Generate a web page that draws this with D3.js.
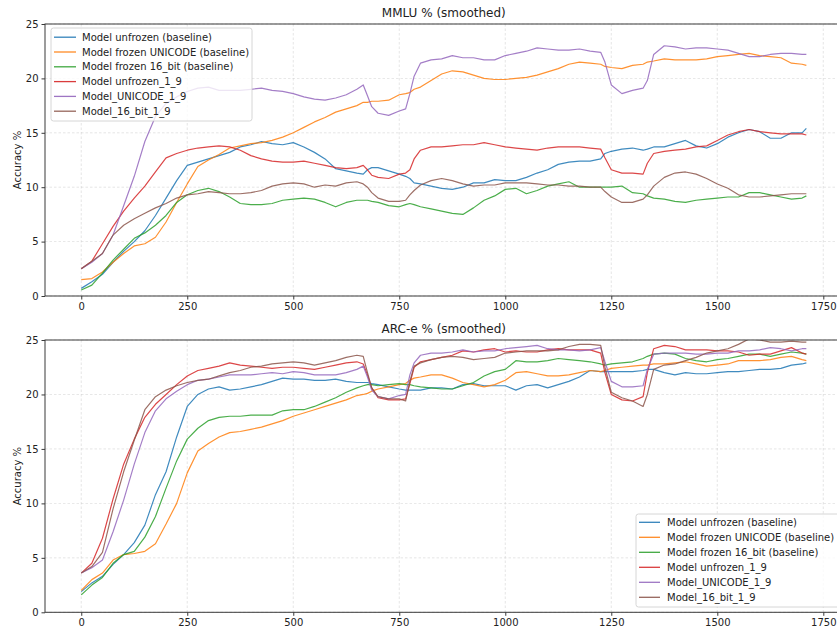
<!DOCTYPE html>
<html>
<head>
<meta charset="utf-8">
<script src="https://cdn.jsdelivr.net/npm/d3@7"></script>
<style>
  html, body { margin: 0; padding: 0; background: #fff; }
  svg { display: block; font-family: "DejaVu Sans", sans-serif; }
</style>
</head>
<body>
<script>
// ---- data ----
const STEPS = [
  0,25,50,75,100,125,150,175,200,225,
  250,275,300,325,350,375,400,425,450,475,
  500,525,550,575,600,625,650,665,675,685,
  700,725,750,765,775,785,800,825,850,875,
  900,925,950,975,1000,1025,1050,1075,1100,1125,
  1150,1175,1200,1225,1235,1250,1275,1300,1325,1335,
  1350,1375,1400,1425,1450,1475,1500,1525,1550,1575,
  1600,1625,1650,1675,1700,1710
];
const SERIES_LABELS = [
  "Model unfrozen (baseline)",
  "Model frozen UNICODE (baseline)",
  "Model frozen 16_bit (baseline)",
  "Model unfrozen_1_9",
  "Model_UNICODE_1_9",
  "Model_16_bit_1_9"
];
const X_TICKS = [0,250,500,750,1000,1250,1500,1750];
const Y_TICKS = [0,5,10,15,20,25];

// MMLU
const MMLU_UNFROZEN = [
  0.7,1.3,2.0,3.1,4.1,5.0,6.0,7.4,9.0,10.6,
  12.0,12.3,12.6,12.9,13.2,13.7,13.9,14.2,14.0,13.9,
  14.1,13.7,13.2,12.6,11.7,11.5,11.3,11.2,11.6,11.8,
  11.8,11.5,11.2,11.0,10.8,10.4,10.3,10.1,9.9,9.8,
  10.0,10.4,10.4,10.7,10.6,10.6,10.9,11.3,11.6,12.1,
  12.3,12.4,12.4,12.6,13.1,13.3,13.5,13.6,13.4,13.5,
  13.7,13.7,14.0,14.3,13.8,13.6,14.0,14.6,15.0,15.3,
  15.1,14.5,14.5,15.0,15.0,15.4
];
const MMLU_FROZEN_UNICODE = [
  1.5,1.6,2.2,3.1,3.9,4.6,4.8,5.4,6.8,8.6,
  10.3,11.9,12.5,13.0,13.6,13.8,14.0,14.1,14.3,14.6,
  15.0,15.5,16.0,16.4,16.9,17.2,17.5,17.8,17.8,17.9,
  17.9,18.0,18.5,18.6,18.7,19.0,19.2,19.8,20.4,20.7,
  20.6,20.3,20.0,19.9,19.9,20.0,20.1,20.3,20.6,20.9,
  21.3,21.5,21.4,21.3,21.1,21.0,20.9,21.2,21.3,21.5,
  21.6,21.8,21.7,21.7,21.7,21.8,22.0,22.1,22.2,22.3,
  22.1,22.0,21.9,21.4,21.3,21.2
];
const MMLU_FROZEN_16BIT = [
  0.55,1.0,2.1,3.3,4.3,5.3,5.8,6.5,7.4,8.6,
  9.3,9.7,9.9,9.6,9.1,8.5,8.4,8.4,8.5,8.8,
  8.9,9.0,8.9,8.6,8.2,8.6,8.8,8.8,8.8,8.7,
  8.6,8.3,8.2,8.4,8.5,8.4,8.2,8.0,7.8,7.6,
  7.5,8.1,8.8,9.2,9.8,9.9,9.4,9.7,10.1,10.3,
  10.5,10.0,10.0,10.0,10.0,10.0,10.1,9.5,9.4,9.2,
  9.0,8.9,8.7,8.6,8.8,8.9,9.0,9.1,9.1,9.5,
  9.5,9.3,9.1,8.9,9.0,9.2
];
const MMLU_UNFROZEN_1_9 = [
  2.5,3.2,4.8,6.4,7.8,9.0,10.1,11.4,12.7,13.1,
  13.4,13.6,13.7,13.8,13.7,13.4,12.9,12.6,12.4,12.3,
  12.3,12.4,12.2,12.0,11.8,11.7,11.8,12.0,11.6,11.1,
  10.9,10.8,11.2,11.3,11.6,12.6,13.4,13.7,13.7,13.8,
  13.9,13.9,14.1,13.9,13.7,13.6,13.5,13.4,13.6,13.7,
  13.7,13.7,13.6,13.5,12.7,11.6,11.3,11.3,11.2,12.2,
  13.1,13.3,13.4,13.5,13.7,13.8,14.3,14.8,15.1,15.3,
  15.1,15.0,14.9,14.9,14.9,14.8
];
const MMLU_UNICODE_1_9 = [
  2.5,3.1,3.9,5.6,8.3,11.0,14.2,16.5,17.7,18.3,
  18.8,19.1,19.2,18.9,18.9,18.9,19.0,19.1,18.9,18.8,
  18.6,18.3,18.1,18.0,18.2,18.5,19.0,19.4,18.4,17.4,
  16.8,16.6,17.0,17.2,18.6,20.2,21.4,21.7,21.8,22.1,
  21.9,21.9,21.7,21.7,22.1,22.3,22.5,22.8,22.7,22.6,
  22.6,22.7,22.5,22.4,21.5,19.4,18.6,18.9,19.1,19.8,
  22.2,23.0,22.9,22.7,22.8,22.8,22.7,22.6,22.3,22.0,
  22.0,22.2,22.3,22.3,22.2,22.2
];
const MMLU_16BIT_1_9 = [
  2.5,3.2,3.9,5.6,6.5,7.1,7.6,8.1,8.5,9.0,
  9.3,9.4,9.6,9.5,9.4,9.4,9.5,9.7,10.1,10.3,
  10.4,10.3,10.0,10.2,10.1,10.4,10.5,10.3,10.0,9.5,
  9.0,8.7,8.7,8.8,9.3,9.7,10.2,10.6,10.8,10.6,
  10.3,10.1,10.2,10.2,10.4,10.4,10.4,10.3,10.2,10.2,
  10.1,10.1,10.0,10.0,9.6,9.1,8.6,8.6,8.9,9.3,
  10.1,10.9,11.3,11.4,11.2,10.8,10.3,9.9,9.3,9.1,
  9.1,9.2,9.3,9.4,9.4,9.4
];

// ARC-e
const ARC_UNFROZEN = [
  1.9,2.7,3.3,4.4,5.3,6.4,8.0,10.8,12.9,16.1,
  18.9,20.0,20.5,20.7,20.4,20.5,20.7,20.9,21.2,21.5,
  21.4,21.4,21.3,21.3,21.4,21.2,21.1,21.1,21.1,21.0,
  20.9,20.7,20.5,20.4,20.4,20.4,20.4,20.6,20.6,20.5,
  20.9,21.0,20.8,20.8,20.8,20.4,20.8,20.9,20.6,20.9,
  21.2,21.6,22.2,22.1,22.1,22.1,22.1,22.1,22.2,22.3,
  22.3,22.0,21.8,22.0,21.9,21.9,22.0,22.1,22.1,22.2,
  22.3,22.3,22.4,22.7,22.8,22.9
];
const ARC_FROZEN_UNICODE = [
  2.0,3.0,3.6,4.8,5.3,5.4,5.6,6.3,8.1,10.0,
  12.8,14.8,15.5,16.1,16.5,16.6,16.8,17.0,17.3,17.6,
  18.0,18.3,18.6,18.9,19.2,19.5,19.9,20.0,20.1,20.3,
  20.5,20.7,20.9,21.0,21.3,21.5,21.6,21.8,21.8,21.5,
  21.1,20.9,20.7,20.9,21.3,22.0,22.1,21.9,21.7,21.7,
  21.8,22.0,22.2,22.1,22.2,22.4,22.5,22.6,22.7,22.7,
  22.8,22.8,22.9,23.0,22.8,22.6,22.7,22.8,23.1,23.1,
  23.1,23.2,23.4,23.5,23.2,23.1
];
const ARC_FROZEN_16BIT = [
  1.6,2.5,3.2,4.5,5.3,5.6,6.9,8.8,11.4,13.9,
  15.9,16.9,17.6,17.9,18.0,18.0,18.1,18.1,18.1,18.5,
  18.6,18.6,18.9,19.3,19.7,20.2,20.6,20.8,20.9,20.9,
  20.8,20.9,21.0,20.9,20.9,20.8,20.7,20.6,20.5,20.5,
  20.8,21.1,21.7,22.1,22.3,23.1,23.0,23.0,23.1,23.3,
  23.2,23.1,23.0,22.8,22.7,22.8,22.9,23.0,23.3,23.5,
  23.7,23.8,23.7,23.3,23.1,23.0,23.2,23.3,23.5,23.7,
  23.7,23.5,23.7,23.9,23.8,23.7
];
const ARC_UNFROZEN_1_9 = [
  3.6,4.5,6.8,10.4,13.6,15.9,17.9,19.1,20.0,20.9,
  21.7,22.2,22.4,22.6,22.9,22.7,22.6,22.5,22.4,22.5,
  22.5,22.4,22.3,22.5,22.7,22.9,23.0,22.8,21.8,20.6,
  19.7,19.5,19.5,19.6,21.0,22.5,23.0,23.2,23.4,23.6,
  24.0,23.9,24.1,24.2,23.9,24.0,23.9,23.9,24.1,24.2,
  24.1,24.1,24.1,23.8,22.0,20.0,19.5,19.4,19.8,22.0,
  24.2,24.5,24.4,24.1,24.1,24.1,24.0,24.0,23.9,23.6,
  23.7,23.7,24.0,24.3,23.8,23.7
];
const ARC_UNICODE_1_9 = [
  3.6,4.1,4.8,7.4,10.3,13.6,16.5,18.5,19.6,20.3,
  20.9,21.3,21.4,21.6,21.8,21.8,21.8,21.9,22.0,21.9,
  22.1,22.0,21.8,21.8,21.8,22.0,22.3,22.6,21.6,20.4,
  19.8,19.6,19.9,20.0,21.8,22.9,23.6,23.8,23.8,23.9,
  24.1,23.9,24.0,24.0,24.2,24.3,24.4,24.5,24.2,24.1,
  24.1,24.0,24.1,24.3,23.0,21.2,20.7,20.7,20.8,22.3,
  23.7,23.8,23.8,23.8,23.7,23.7,23.8,23.8,24.0,24.0,
  24.1,24.3,24.2,24.0,24.2,24.2
];
const ARC_16BIT_1_9 = [
  3.6,4.2,5.5,9.5,12.9,15.8,18.6,19.8,20.4,20.8,
  21.1,21.3,21.4,21.7,22.0,22.2,22.5,22.6,22.8,22.9,
  23.0,22.9,22.7,22.9,23.1,23.4,23.6,23.5,22.0,20.6,
  19.8,19.6,19.6,19.4,21.2,22.6,22.9,23.2,23.4,23.5,
  23.4,23.2,23.3,23.4,23.8,23.9,24.0,24.0,24.0,24.1,
  24.4,24.6,24.6,24.5,22.5,20.2,19.7,19.4,18.9,20.0,
  22.3,22.7,22.8,23.1,23.4,23.8,24.0,24.2,24.6,25.1,
  25.0,24.8,24.8,24.9,24.8,24.8
];

const MMLU_SERIES = [MMLU_UNFROZEN, MMLU_FROZEN_UNICODE, MMLU_FROZEN_16BIT, MMLU_UNFROZEN_1_9, MMLU_UNICODE_1_9, MMLU_16BIT_1_9];
const ARC_SERIES = [ARC_UNFROZEN, ARC_FROZEN_UNICODE, ARC_FROZEN_16BIT, ARC_UNFROZEN_1_9, ARC_UNICODE_1_9, ARC_16BIT_1_9];

const COLORS = ["#1f77b4", "#ff7f0e", "#2ca02c", "#d62728", "#9467bd", "#8c564b"];

// ---- drawing ----
const W = 837, H = 632;
const svg = d3.select("body").append("svg").attr("width", W).attr("height", H);

const X_LEFT = 45.0, X_RIGHT = 842.6;
const FS = "10px";

function panel(idx, top, bottom, title, series, legend) {
  const x = d3.scaleLinear().domain([-85.5, 1795.5]).range([X_LEFT, X_RIGHT]);
  const y = d3.scaleLinear().domain([0, 25]).range([bottom, top]);
  const g = svg.append("g");

  const clipId = "clip" + idx;
  svg.append("defs").append("clipPath").attr("id", clipId)
    .append("rect").attr("x", X_LEFT).attr("y", top).attr("width", X_RIGHT - X_LEFT).attr("height", bottom - top);

  // grid
  const grid = g.append("g");
  grid.selectAll(".gx").data(X_TICKS).join("line")
    .attr("x1", d => x(d)).attr("x2", d => x(d)).attr("y1", top).attr("y2", bottom)
    .attr("stroke", "#c4c4c4").attr("stroke-width", 0.7).attr("stroke-dasharray", "2.5,2").attr("opacity", 0.6);
  grid.selectAll(".gy").data(Y_TICKS).join("line")
    .attr("x1", X_LEFT).attr("x2", X_RIGHT).attr("y1", d => y(d)).attr("y2", d => y(d))
    .attr("stroke", "#c4c4c4").attr("stroke-width", 0.7).attr("stroke-dasharray", "2.5,2").attr("opacity", 0.6);

  // lines
  const line = d3.line().x((d, i) => x(STEPS[i])).y(d => y(d));
  const lg = g.append("g").attr("clip-path", `url(#${clipId})`);
  series.forEach((s, k) => {
    lg.append("path").datum(s).attr("d", line)
      .attr("fill", "none").attr("stroke", COLORS[k]).attr("stroke-width", 1.2)
      .attr("stroke-linejoin", "round").attr("opacity", 0.85);
  });

  // spines
  g.append("rect").attr("x", X_LEFT).attr("y", top).attr("width", X_RIGHT - X_LEFT).attr("height", bottom - top)
    .attr("fill", "none").attr("stroke", "#3a3a3a").attr("stroke-width", 1);

  // axes
  const xa = g.append("g").attr("transform", `translate(0,${bottom})`)
    .call(d3.axisBottom(x).tickValues(X_TICKS).tickSize(3.5).tickPadding(3).tickFormat(d3.format("d")));
  const ya = g.append("g").attr("transform", `translate(${X_LEFT},0)`)
    .call(d3.axisLeft(y).tickValues(Y_TICKS).tickSize(3.5).tickPadding(3).tickFormat(d3.format("d")));
  [xa, ya].forEach(a => {
    a.select(".domain").remove();
    a.selectAll("line").attr("stroke", "#3a3a3a");
    a.selectAll("text").attr("font-size", FS).attr("fill", "#222").attr("font-family", "DejaVu Sans, sans-serif");
  });

  // title
  g.append("text").attr("x", (X_LEFT + X_RIGHT) / 2).attr("y", top - 7)
    .attr("text-anchor", "middle").attr("font-size", "12px").attr("fill", "#222").text(title);

  // y label
  g.append("text").attr("transform", `translate(17,${(top + bottom) / 2}) rotate(-90)`)
    .attr("text-anchor", "middle").attr("dy", "0.35em").attr("font-size", FS).attr("fill", "#222").text("Accuracy %");

  // legend
  const L = g.append("g");
  L.append("rect").attr("x", legend.x).attr("y", legend.y).attr("width", legend.w).attr("height", legend.h)
    .attr("rx", 2.5).attr("fill", "#fff").attr("fill-opacity", 0.8).attr("stroke", "#cccccc").attr("stroke-width", 0.8);
  SERIES_LABELS.forEach((lab, k) => {
    const cy = legend.row0 + k * legend.dy;
    L.append("line").attr("x1", legend.lx1).attr("x2", legend.lx2).attr("y1", cy).attr("y2", cy)
      .attr("stroke", COLORS[k]).attr("stroke-width", 1.3).attr("opacity", 0.9);
    L.append("text").attr("x", legend.tx).attr("y", cy).attr("dy", "0.35em")
      .attr("font-size", FS).attr("fill", "#222").text(lab);
  });
}

panel(0, 24, 296, "MMLU % (smoothed)", MMLU_SERIES,
  { x: 51, y: 28, w: 201, h: 93, row0: 37.2, dy: 14.8, lx1: 54, lx2: 76, tx: 82 });
panel(1, 340, 612.3, "ARC-e % (smoothed)", ARC_SERIES,
  { x: 636, y: 514, w: 205, h: 93, row0: 522.3, dy: 15, lx1: 639, lx2: 660, tx: 667 });
</script>
</body>
</html>
